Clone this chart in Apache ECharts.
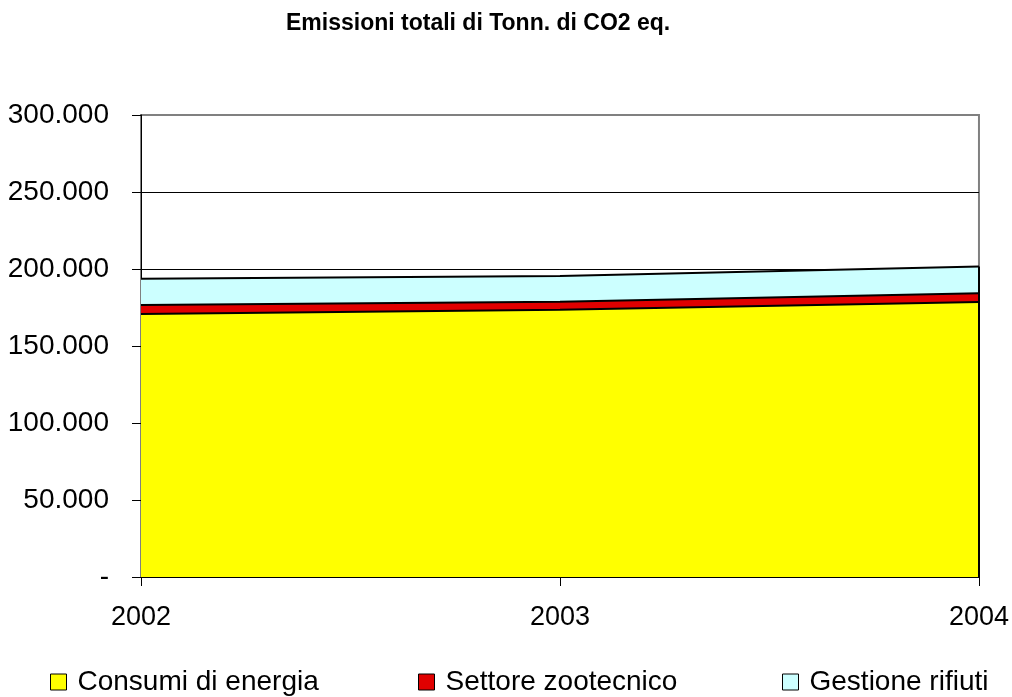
<!DOCTYPE html>
<html>
<head>
<meta charset="utf-8">
<script src="https://cdn.jsdelivr.net/npm/echarts@6/dist/echarts.min.js"></script>
<style>
  html, body { margin: 0; padding: 0; background: #fff; }
  #chart { width: 1012px; height: 697px; }
</style>
</head>
<body>
<div id="chart"></div>
<script>
// Emissioni totali (tonnellate di CO2 equivalente) per settore
const years = ['2002', '2003', '2004'];
const consumiEnergia = [170700, 173500, 178500];
const settoreZootecnico = [6000, 5300, 5800];
const gestioneRifiuti = [16900, 16700, 17300];
const yTicks = [0, 50000, 100000, 150000, 200000, 250000, 300000];

const FONT = 'Liberation Sans, Arial, sans-serif';

function fmtThousands(v) {
  if (v === 0) return '-';
  return String(v).replace(/\B(?=(\d{3})+(?!\d))/g, '.');
}

const names = ['Consumi di energia', 'Settore zootecnico', 'Gestione rifiuti'];
const colors = ['#FFFF00', '#E00000', '#CCFFFF'];
const values = [consumiEnergia, settoreZootecnico, gestioneRifiuti];
const lastIdx = years.length - 1;
const total2004 = consumiEnergia[lastIdx] + settoreZootecnico[lastIdx] + gestioneRifiuti[lastIdx];

// Filled stacked areas
const areaSeries = names.map((n, i) => ({
  name: n,
  type: 'line',
  stack: 'fill',
  data: values[i],
  showSymbol: false,
  symbol: 'none',
  color: colors[i],
  lineStyle: { width: 0 },
  areaStyle: { color: colors[i], opacity: 1 },
  itemStyle: { color: colors[i], borderColor: '#000', borderWidth: 1 },
  z: 2,
  animation: false
}));

// Black outlines drawn above all fills
const outlineSeries = names.map((n, i) => ({
  name: n + ' (bordo)',
  type: 'line',
  stack: 'outline',
  data: values[i],
  showSymbol: false,
  symbol: 'none',
  lineStyle: { color: '#000', width: 2 },
  z: 4,
  silent: true,
  animation: false,
  markLine: i === names.length - 1 ? {
    silent: true,
    symbol: ['none', 'none'],
    label: { show: false },
    lineStyle: { color: '#000', width: 2, type: 'solid' },
    data: [[{ coord: [lastIdx, 0] }, { coord: [lastIdx, total2004] }]]
  } : undefined
}));

function legendFor(i, left) {
  return {
    data: [names[i]],
    left: left,
    top: 668,
    padding: 0,
    orient: 'horizontal',
    itemWidth: 16,
    itemHeight: 16,
    icon: 'rect',
    itemStyle: { borderColor: '#000', borderWidth: 1 },
    textStyle: { fontFamily: FONT, fontSize: 28, color: '#000', padding: [0, 0, 0, 6] },
    selectedMode: false
  };
}

const chart = echarts.init(document.getElementById('chart'), null, { renderer: 'canvas' });
chart.setOption({
  animation: false,
  backgroundColor: '#fff',
  title: {
    text: 'Emissioni totali di Tonn. di CO2 eq.',
    left: 286,
    top: 12,
    padding: 0,
    textStyle: { fontFamily: FONT, fontSize: 23, fontWeight: 'bold', color: '#000' }
  },
  legend: [legendFor(0, 50), legendFor(1, 418), legendFor(2, 782)],
  grid: {
    left: 141, right: 33, top: 115, bottom: 120,
    show: true, borderColor: '#808080', borderWidth: 2, backgroundColor: '#fff'
  },
  xAxis: {
    type: 'category',
    data: years,
    boundaryGap: false,
    axisLine: { lineStyle: { color: '#000', width: 1 } },
    axisTick: { show: true, length: 9, lineStyle: { color: '#000' } },
    axisLabel: { fontFamily: FONT, fontSize: 27, color: '#000', margin: 27 },
    splitLine: { show: false }
  },
  yAxis: {
    type: 'value',
    min: yTicks[0],
    max: yTicks[yTicks.length - 1],
    interval: yTicks[1] - yTicks[0],
    axisLine: { show: true, lineStyle: { color: '#000', width: 1 } },
    axisTick: { show: true, length: 9, lineStyle: { color: '#000' } },
    axisLabel: { fontFamily: FONT, fontSize: 28, color: '#000', margin: 32, formatter: fmtThousands },
    splitLine: {
      show: true,
      lineStyle: { color: ['#000', '#000', '#000', '#000', '#000', '#000', '#808080'], width: 1 }
    }
  },
  series: areaSeries.concat(outlineSeries)
});
</script>
</body>
</html>
